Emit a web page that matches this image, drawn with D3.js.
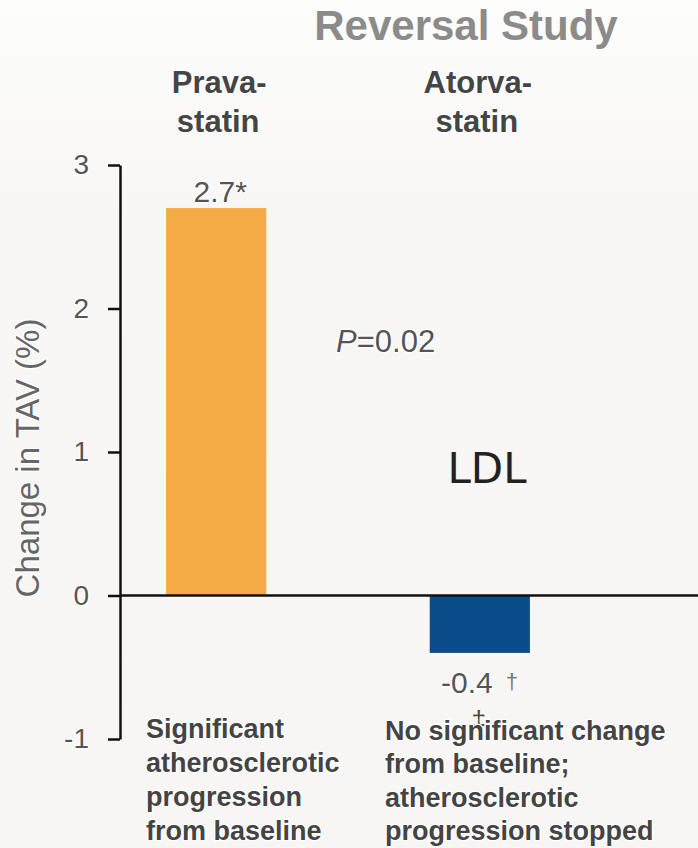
<!DOCTYPE html>
<html>
<head>
<meta charset="utf-8">
<script src="https://cdn.jsdelivr.net/npm/d3@7"></script>
<style>
  html, body { margin: 0; padding: 0; }
  body { width: 698px; height: 848px; overflow: hidden; }
  svg { display: block; font-family: "Liberation Sans", Arial, sans-serif; }
  .halo { paint-order: stroke; stroke: #ffffff; stroke-width: 2.5px; stroke-linejoin: round; }
</style>
</head>
<body>
<svg id="chart" width="698" height="848"></svg>
<script>
// Change in total atheroma volume by treatment arm
const categories = ["Prava-\nstatin", "Atorva-\nstatin"];
const values = [2.7, -0.4];
const valueLabels = ["2.7*", "-0.4"];
const barColors = ["#f4aa45", "#0b4d8a"];
const yTicks = [-1, 0, 1, 2, 3];
const notes = [
  ["Significant", "atherosclerotic", "progression", "from baseline"],
  ["No significant change", "from baseline;", "atherosclerotic", "progression stopped"]
];

const svg = d3.select("#chart");
const W = 698, H = 848;

// background: faint off-white with a lighter top
const defs = svg.append("defs");
const grad = defs.append("linearGradient").attr("id", "bg").attr("x1", 0).attr("y1", 0).attr("x2", 0).attr("y2", 1);
grad.append("stop").attr("offset", "0%").attr("stop-color", "#fdfdfc");
grad.append("stop").attr("offset", "25%").attr("stop-color", "#f8f7f5");
grad.append("stop").attr("offset", "100%").attr("stop-color", "#f7f6f4");
svg.append("rect").attr("width", W).attr("height", H).attr("fill", "url(#bg)");

const y = d3.scaleLinear().domain([-1, 3]).range([739, 165]);
const x = d3.scaleBand().domain(categories).range([87, 609]).paddingInner(0.62).paddingOuter(0.3);
const axisX = 120;

// title
svg.append("text")
  .attr("x", 466).attr("y", 40)
  .attr("text-anchor", "middle")
  .attr("font-size", 42).attr("font-weight", "bold")
  .attr("fill", "#8b8b8b")
  .text("Reversal Study");

// category headers
categories.forEach((c, ci) => {
  const lines = c.split("\n");
  const cx = x(c) + x.bandwidth() / 2 + (ci === 0 ? 2 : -3);
  const t = svg.append("text")
    .attr("class", "halo")
    .attr("text-anchor", "middle")
    .attr("font-size", 31).attr("font-weight", "bold")
    .attr("fill", "#454545");
  lines.forEach((ln, i) => {
    t.append("tspan")
      .attr("x", cx + (i === 0 ? 1 : 0))
      .attr("y", 93 + i * 39)
      .text(ln);
  });
});

// y axis
const yAxis = d3.axisLeft(y).tickValues(yTicks).tickSize(12).tickSizeOuter(0).tickPadding(19)
  .tickFormat(d => String(d));
const gy = svg.append("g").attr("transform", `translate(${axisX},0)`).call(yAxis);
gy.select(".domain").attr("stroke", "#111").attr("stroke-width", 2.5);
gy.selectAll(".tick line").attr("stroke", "#111").attr("stroke-width", 2.5);
gy.selectAll(".tick text")
  .attr("class", "halo")
  .attr("font-size", 28).attr("fill", "#555")
  .attr("font-family", "Liberation Sans, Arial, sans-serif");

// y axis title
svg.append("text")
  .attr("transform", `translate(39,${y(1.0) + 6}) rotate(-90)`)
  .attr("text-anchor", "middle")
  .attr("font-size", 33).attr("fill", "#666")
  .attr("class", "halo")
  .text("Change in TAV (%)");

// bars
svg.selectAll("rect.bar")
  .data(values)
  .join("rect")
  .attr("class", "bar")
  .attr("x", (d, i) => x(categories[i]))
  .attr("width", x.bandwidth())
  .attr("y", d => y(Math.max(0, d)))
  .attr("height", d => Math.abs(y(d) - y(0)))
  .attr("fill", (d, i) => barColors[i]);

// zero baseline across the plot
svg.append("line")
  .attr("x1", axisX).attr("x2", W)
  .attr("y1", y(0)).attr("y2", y(0))
  .attr("stroke", "#111").attr("stroke-width", 2.5);

// value labels
values.forEach((v, i) => {
  const cx = x(categories[i]) + x.bandwidth() / 2;
  const ty = v >= 0 ? y(v) - 6 : y(v) + 40;
  svg.append("text")
    .attr("class", "halo")
    .attr("x", cx + (v >= 0 ? 4 : -13)).attr("y", ty)
    .attr("text-anchor", "middle")
    .attr("font-size", 30).attr("fill", "#555")
    .text(valueLabels[i]);
});

// significance marks next to the atorvastatin value
const cx2 = x(categories[1]) + x.bandwidth() / 2;
svg.append("text")
  .attr("x", cx2 + 32).attr("y", y(values[1]) + 36)
  .attr("text-anchor", "middle")
  .attr("font-size", 22).attr("fill", "#777")
  .text("†");
svg.append("text")
  .attr("x", cx2 - 1).attr("y", y(values[1]) + 76)
  .attr("text-anchor", "middle")
  .attr("font-size", 26).attr("fill", "#444")
  .text("‡");

// p-value
const p = svg.append("text")
  .attr("class", "halo")
  .attr("x", 336).attr("y", 352)
  .attr("font-size", 31).attr("fill", "#555");
p.append("tspan").attr("font-style", "italic").text("P");
p.append("tspan").text("=0.02");

// LDL label
svg.append("text")
  .attr("x", 487).attr("y", 483)
  .attr("text-anchor", "middle")
  .attr("font-family", "DejaVu Sans, sans-serif")
  .attr("font-size", 42).attr("fill", "#222")
  .text("LDL");

// outcome notes under each bar
const noteX = [146, 385];
const noteY = [[738, 772, 806, 840], [740, 773, 807, 840]];
notes.forEach((lines, i) => {
  const t = svg.append("text")
    .attr("class", "halo")
    .attr("font-size", 27).attr("font-weight", "bold")
    .attr("fill", "#444");
  lines.forEach((ln, j) => {
    t.append("tspan").attr("x", noteX[i]).attr("y", noteY[i][j]).text(ln);
  });
});
</script>
</body>
</html>
